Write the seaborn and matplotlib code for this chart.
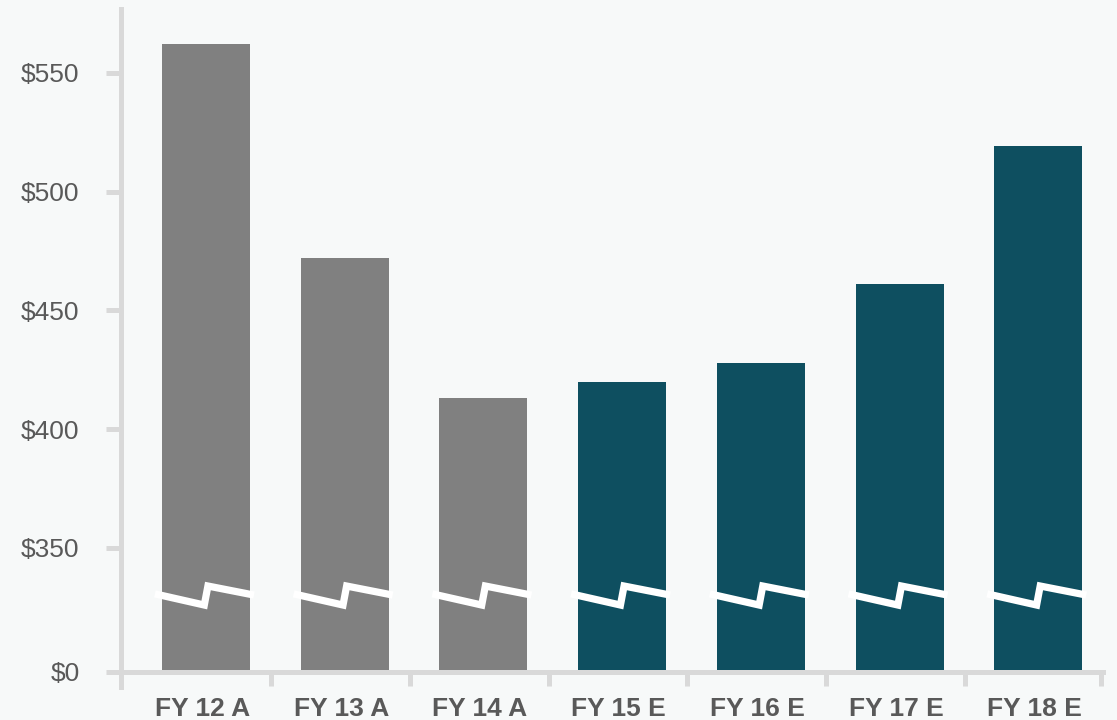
import numpy as np
import matplotlib
matplotlib.use("Agg")
import matplotlib.pyplot as plt
import seaborn as sns

# Revenue by fiscal year (A = actual, E = estimate), in $
years = ["FY 12 A", "FY 13 A", "FY 14 A", "FY 15 E", "FY 16 E", "FY 17 E", "FY 18 E"]
revenue = [562, 472, 413, 420, 428, 461, 519]
kind = ["A", "A", "A", "E", "E", "E", "E"]
ytick_values = [0, 350, 400, 450, 500, 550]
ytick_labels = ["$0", "$350", "$400", "$450", "$500", "$550"]

kind_colors = {"A": "#808080", "E": "#0e4f60"}
bg = "#f7f9f9"
axis_gray = "#d9d9d9"
text_gray = "#595959"

sns.set_theme(style="white")
plt.rcParams["font.family"] = ["Liberation Sans", "DejaVu Sans"]

# Broken value axis: 0..350 is squeezed into a short band, linear above 350
BREAK, BASE = 350.0, 298.0


def fwd(v):
    v = np.asarray(v, dtype=float)
    return np.where(v >= BREAK, v, BASE + v * (BREAK - BASE) / BREAK)


def inv(u):
    u = np.asarray(u, dtype=float)
    return np.where(u >= BREAK, u, (u - BASE) * BREAK / (BREAK - BASE))


fig = plt.figure(figsize=(11.17, 7.2), dpi=100, facecolor=bg)
ax = fig.add_axes([0.1079, 0.0458, 0.8796, 0.9417])
ax.set_facecolor(bg)

palette = [kind_colors[k] for k in kind]
sns.barplot(x=years, y=revenue, hue=years, palette=palette, width=0.634,
            saturation=1, legend=False, ax=ax, zorder=2, linewidth=0)

ax.set_yscale("function", functions=(fwd, inv))
ax.set_ylim(float(inv(291.5)), float(inv(576.8)))
ax.set_xlim(-0.616, 6.467)

# Axis-break zigzag across every bar
zx = np.array([-0.368, -0.012, 0.014, 0.346])
zy = inv(np.array([330.7, 326.0, 334.0, 330.2]))
for i in range(len(years)):
    ax.plot(i + zx, zy, color="white", lw=5.2, solid_joinstyle="miter",
            solid_capstyle="butt", zorder=3)

# Spines
for side in ("top", "right"):
    ax.spines[side].set_visible(False)
for side in ("left", "bottom"):
    ax.spines[side].set_color(axis_gray)
    ax.spines[side].set_linewidth(3.6)
    ax.spines[side].set_zorder(4)
ax.spines["bottom"].set_position(("data", 0))

# Y ticks
ax.set_yticks(ytick_values)
ax.set_yticklabels(ytick_labels)
ax.yaxis.set_minor_locator(matplotlib.ticker.NullLocator())
ax.tick_params(axis="y", which="major", direction="out", length=10.5, width=3.6,
               color=axis_gray, labelsize=19, labelcolor=text_gray, pad=19, left=True)

# X ticks: labels under bars, tick marks between categories
ax.set_xticks(np.arange(len(years)) - 0.025)
ax.set_xticklabels(years, fontweight="bold")
ax.set_xticks(list(np.arange(len(years) - 1) + 0.47) + [6.455], minor=True)
ax.tick_params(axis="x", which="major", length=0, labelsize=19,
               labelcolor=text_gray, pad=18.5)
ax.tick_params(axis="x", which="minor", direction="out", length=10, width=3.6,
               color=axis_gray, bottom=True)
ax.set_xlabel("")
ax.set_ylabel("")

fig.savefig("out.png", dpi=100, facecolor=bg)
